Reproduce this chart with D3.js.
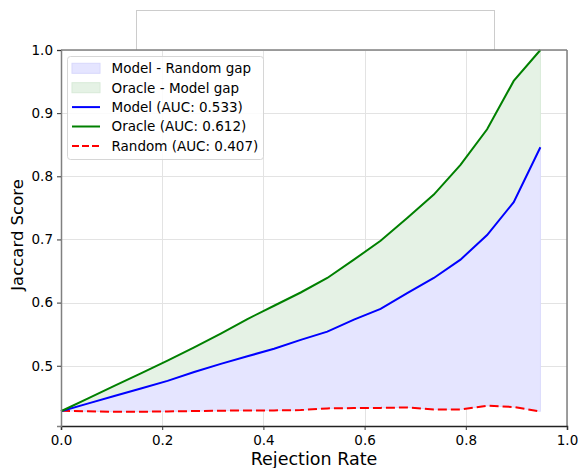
<!DOCTYPE html>
<html><head><meta charset="utf-8">
<script src="https://cdn.jsdelivr.net/npm/d3@7"></script>
<style>body{margin:0;background:#fff}svg{display:block;font-family:"DejaVu Sans",sans-serif}</style>
</head><body><svg id="c" width="578" height="468"></svg>
<script>
const rejectionRates = [0, 0.0526, 0.1053, 0.1579, 0.2105, 0.2632, 0.3158, 0.3684, 0.4211, 0.4737, 0.5263, 0.5789, 0.6316, 0.6842, 0.7368, 0.7895, 0.8421, 0.8947, 0.9474];
const modelScores  = [0.428, 0.440, 0.452, 0.464, 0.476, 0.490, 0.503, 0.515, 0.527, 0.541, 0.554, 0.573, 0.590, 0.615, 0.639, 0.668, 0.707, 0.759, 0.846];
const oracleScores = [0.428, 0.448, 0.468, 0.488, 0.508, 0.529, 0.551, 0.574, 0.595, 0.616, 0.639, 0.668, 0.698, 0.734, 0.771, 0.818, 0.8745, 0.951, 1.0];
const randomScores = [0.4288, 0.4280, 0.4272, 0.4272, 0.4277, 0.4283, 0.4288, 0.4293, 0.4293, 0.4298, 0.4325, 0.4330, 0.4333, 0.4340, 0.4309, 0.4309, 0.4367, 0.4346, 0.4277];
const xTicks = [0.0, 0.2, 0.4, 0.6, 0.8, 1.0];
const yTicks = [0.5, 0.6, 0.7, 0.8, 0.9, 1.0];
const legendLabels = ["Model - Random gap", "Oracle - Model gap", "Model (AUC: 0.533)", "Oracle (AUC: 0.612)", "Random (AUC: 0.407)"];

const svg = d3.select("#c");
const L = 61, R = 567, T = 50, B = 426;
const x = d3.scaleLinear().domain([0, 1]).range([L, R]);
const y = d3.scaleLinear().domain([0.4046, 1.0]).range([B, T]);

// empty title box
svg.append("rect").attr("x", 136.5).attr("y", 10.5).attr("width", 358).attr("height", 60)
  .attr("fill", "#fff").attr("stroke", "#cccccc").attr("stroke-width", 1);

svg.append("rect").attr("x", L).attr("y", T).attr("width", R - L).attr("height", B - T).attr("fill", "#fff");

// grid
const grid = svg.append("g").attr("stroke", "#e3e3e3").attr("stroke-width", 1);
xTicks.forEach(t => grid.append("line").attr("x1", Math.round(x(t)) + 0.5).attr("x2", Math.round(x(t)) + 0.5).attr("y1", T).attr("y2", B));
yTicks.forEach(t => grid.append("line").attr("y1", Math.round(y(t)) + 0.5).attr("y2", Math.round(y(t)) + 0.5).attr("x1", L).attr("x2", R));

const idx = d3.range(rejectionRates.length);
const areaMR = d3.area().x(i => x(rejectionRates[i])).y0(i => y(randomScores[i])).y1(i => y(modelScores[i]));
const areaOM = d3.area().x(i => x(rejectionRates[i])).y0(i => y(modelScores[i])).y1(i => y(oracleScores[i]));
const blueFill = "#e5e5ff", greenFill = "#e5f2e5";
svg.append("path").attr("d", areaMR(idx)).attr("fill", blueFill).attr("stroke", "#dadafc").attr("stroke-width", 1);
svg.append("path").attr("d", areaOM(idx)).attr("fill", greenFill).attr("stroke", "#d8ead8").attr("stroke-width", 1);

const line = arr => d3.line().x(i => x(rejectionRates[i])).y(i => y(arr[i]))(idx);
svg.append("path").attr("d", line(randomScores)).attr("fill", "none").attr("stroke", "#ff0000").attr("stroke-width", 2).attr("stroke-dasharray", "9,4");
svg.append("path").attr("d", line(modelScores)).attr("fill", "none").attr("stroke", "#0000ff").attr("stroke-width", 2);
svg.append("path").attr("d", line(oracleScores)).attr("fill", "none").attr("stroke", "#008000").attr("stroke-width", 2);

// spines
svg.append("line").attr("x1", L).attr("x2", R).attr("y1", T).attr("y2", T).attr("stroke", "#808080").attr("stroke-width", 1.5);
svg.append("line").attr("x1", R).attr("x2", R).attr("y1", T).attr("y2", B).attr("stroke", "#808080").attr("stroke-width", 1.5);

// axes
const xAxis = svg.append("g").attr("transform", `translate(0,${B})`)
  .call(d3.axisBottom(x).tickValues(xTicks).tickFormat(d3.format(".1f")).tickSize(4).tickPadding(5));
const yAxis = svg.append("g").attr("transform", `translate(${L},0)`)
  .call(d3.axisLeft(y).tickValues(yTicks).tickFormat(d3.format(".1f")).tickSize(4).tickPadding(4));
[xAxis, yAxis].forEach(a => {
  a.selectAll("text").attr("font-size", 13.5).attr("fill", "#000").attr("font-family", "DejaVu Sans");
  a.selectAll(".tick line").attr("stroke", "#333");
});
xAxis.select(".domain").attr("stroke", "#222").attr("stroke-width", 1.5);
yAxis.select(".domain").attr("stroke", "#808080").attr("stroke-width", 1.5);

svg.append("text").attr("x", (L + R) / 2).attr("y", 465).attr("text-anchor", "middle").attr("font-size", 17.5).text("Rejection Rate");
svg.append("text").attr("transform", "translate(23,235) rotate(-90)").attr("text-anchor", "middle").attr("font-size", 16.5).text("Jaccard Score");

// legend
const lg = svg.append("g");
lg.append("rect").attr("x", 67.5).attr("y", 56.5).attr("width", 196).attr("height", 103).attr("rx", 3)
  .attr("fill", "rgba(255,255,255,0.85)").attr("stroke", "#d6d6d6");
const rowY = [68.3, 87.7, 107.1, 126.5, 145.9];
lg.append("rect").attr("x", 72).attr("y", rowY[0] - 5).attr("width", 28).attr("height", 10).attr("fill", blueFill).attr("stroke", "#d8d8fc");
lg.append("rect").attr("x", 72).attr("y", rowY[1] - 5).attr("width", 28).attr("height", 10).attr("fill", greenFill).attr("stroke", "#d8ead8");
lg.append("line").attr("x1", 72).attr("x2", 100).attr("y1", rowY[2]).attr("y2", rowY[2]).attr("stroke", "#0000ff").attr("stroke-width", 2);
lg.append("line").attr("x1", 72).attr("x2", 100).attr("y1", rowY[3]).attr("y2", rowY[3]).attr("stroke", "#008000").attr("stroke-width", 2);
lg.append("line").attr("x1", 72).attr("x2", 100).attr("y1", rowY[4]).attr("y2", rowY[4]).attr("stroke", "#ff0000").attr("stroke-width", 2).attr("stroke-dasharray", "7,3");
legendLabels.forEach((t, i) => lg.append("text").attr("x", 111.5).attr("y", rowY[i]).attr("dy", "0.36em").attr("font-size", 13.5).text(t));
</script></body></html>
